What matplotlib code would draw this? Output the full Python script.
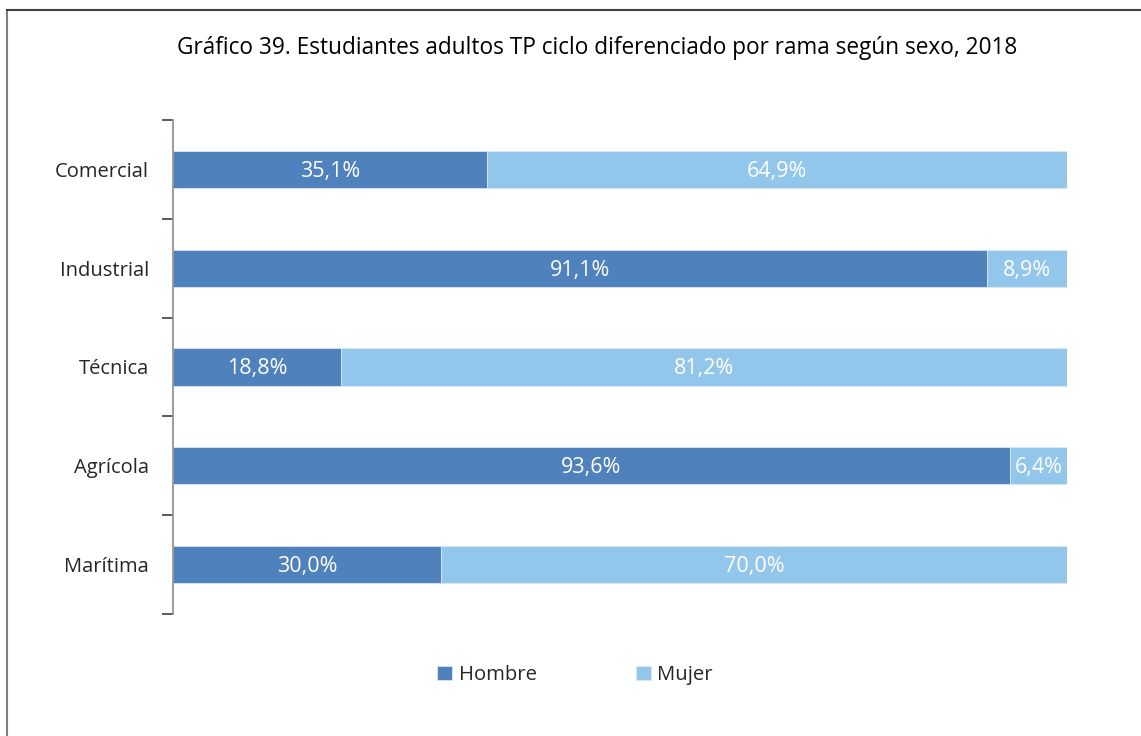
import matplotlib
matplotlib.use("Agg")
import matplotlib.pyplot as plt
from matplotlib.lines import Line2D

categories = ["Comercial", "Industrial", "Técnica", "Agrícola", "Marítima"]
hombre = [35.1, 91.1, 18.8, 93.6, 30.0]
mujer = [64.9, 8.9, 81.2, 6.4, 70.0]
series_names = ["Hombre", "Mujer"]
title = "Gráfico 39. Estudiantes adultos TP ciclo diferenciado por rama según sexo, 2018"

plt.rcParams['font.family'] = ['Open Sans', 'DejaVu Sans']
c_h = "#4F81BD"
c_m = "#92C6EB"

fig = plt.figure(figsize=(11.41, 7.36), dpi=100)
ax = fig.add_axes([173/1141, (736-614)/736, (1067-173)/1141, (614-120)/736])

y = list(range(len(categories)))
bh = 0.375
b1 = ax.barh(y, hombre, height=bh, color=c_h, edgecolor="#DCE6F2", linewidth=0.6, label=series_names[0])
b2 = ax.barh(y, mujer, left=hombre, height=bh, color=c_m, edgecolor="#DCE6F2", linewidth=0.6, label=series_names[1])

def fmt(v):
    return f"{v:.1f}%".replace(".", ",")

for bars in (b1, b2):
    for r in bars:
        w = r.get_width()
        ax.text(r.get_x() + w/2, r.get_y() + r.get_height()/2 + 0.02, fmt(w),
                ha="center", va="center", color="white", fontsize=15.5)

ax.set_ylim(len(categories) - 0.5, -0.5)
ax.set_xlim(0, 100)
ax.set_yticks(y)
ax.set_yticklabels(categories, fontsize=14.5)
ax.tick_params(axis="y", which="major", length=0, pad=23, labelcolor="#262626")
ax.set_yticks([i - 0.5 for i in range(len(categories) + 1)], minor=True)
ax.tick_params(axis="y", which="minor", length=8, width=1.2, color="#404040")
ax.set_xticks([])
for s in ["top", "right", "bottom"]:
    ax.spines[s].set_visible(False)
ax.spines["left"].set_color("#8C8C8C")
ax.spines["left"].set_linewidth(1.2)
for lab in ax.get_yticklabels():
    lab.set_x(-0.0)
# shift labels right a bit relative to default pad
import matplotlib.transforms as mtransforms
offset = mtransforms.ScaledTranslation(8/100, 0, fig.dpi_scale_trans)
for lab in ax.get_yticklabels():
    lab.set_transform(lab.get_transform() + offset)

fig.text(597/1141, 1 - 48/736, title, ha="center", va="center", fontsize=16.3, color="#000000")

leg = fig.legend(handles=[b1, b2], labels=series_names, loc="center", bbox_to_anchor=(575/1141, 1 - 675/736),
                 ncol=2, frameon=False, fontsize=14.6, handlelength=0.75, handleheight=0.75,
                 handletextpad=0.3, columnspacing=4.9)
for t in leg.get_texts():
    t.set_color("#262626")

# outer border
fig.add_artist(Line2D([7/1141, 7/1141], [0, 1 - 10/736], transform=fig.transFigure, color="#7F7F7F", linewidth=1.5))
fig.add_artist(Line2D([7/1141, 1], [1 - 10/736, 1 - 10/736], transform=fig.transFigure, color="#404040", linewidth=1.5))

fig.savefig("out.png", dpi=100)
